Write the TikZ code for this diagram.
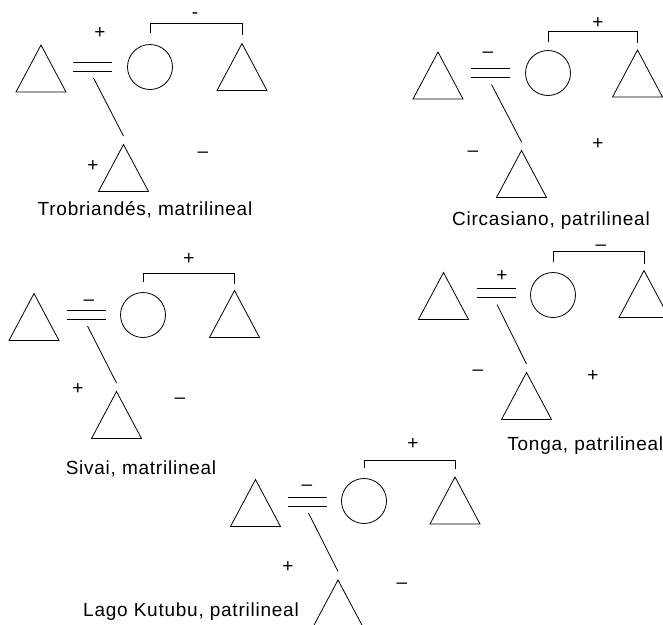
\documentclass[tikz,border=0pt]{standalone}
\usepackage{fontspec}
\setmainfont{Liberation Sans}[LetterSpace=4]
\begin{document}
\begin{tikzpicture}[x=1pt,y=-1pt,line width=0.8pt,
  tri/.style={minimum width=50pt,minimum height=47pt,inner sep=0pt,outer sep=0pt},
  fem/.style={circle,draw,minimum size=45pt,inner sep=0pt},
  marr/.style={minimum width=39pt,minimum height=9pt,inner sep=0pt,outer sep=0pt},
  sgn/.style={font=\fontsize{19pt}{22pt}\selectfont,inner sep=0pt,anchor=base},
  plus/.style={sgn,yshift=-6.7pt},
  minus/.style={sgn,yshift=-5.2pt},
  lbl/.style={font=\fontsize{19pt}{22pt}\selectfont,inner sep=0pt,anchor=base}]
\path[use as bounding box,clip] (0,0) rectangle (663,624);

% ---------- Trobriandes ----------
\node[tri]  (L1) at (41,68.5) {};
\node[marr] (E1) at (92.5,66.5) {};
\node[fem]  (O1) at (150,67) {};
\node[tri]  (R1) at (242,67) {};
\node[tri]  (C1) at (123.5,168) {};
\node[plus]  (s1a) at (100,32) {+};
\node[minus] (s1b) at (195,13) {-};
\node[plus]  (s1c) at (93,165) {+};
\node[minus] (s1d) at (203,152) {–};
\node[lbl] (t1) at (145,215) {Trobriandés, matrilineal};

% ---------- Circasiano ----------
\node[tri]  (L2) at (438,75.5) {};
\node[marr] (E2) at (490.5,73) {};
\node[fem]  (O2) at (548,73) {};
\node[tri]  (R2) at (637.5,73.5) {};
\node[tri]  (C2) at (521.5,174) {};
\node[minus] (s2a) at (488,52) {–};
\node[plus]  (s2b) at (598,22) {+};
\node[minus] (s2c) at (473,151) {–};
\node[plus]  (s2d) at (598,143) {+};
\node[lbl] (t2) at (551,225) {Circasiano, patrilineal};

% ---------- Sivai ----------
\node[tri]  (L3) at (34,317) {};
\node[marr] (E3) at (86.5,314.5) {};
\node[fem]  (O3) at (143,315) {};
\node[tri]  (R3) at (234.5,314) {};
\node[tri]  (C3) at (116.5,415) {};
\node[minus] (s3a) at (89,300) {–};
\node[plus]  (s3b) at (189,258) {+};
\node[plus]  (s3c) at (78,388) {+};
\node[minus] (s3d) at (180,398) {–};
\node[lbl] (t3) at (141,474) {Sivai, matrilineal};

% ---------- Tonga ----------
\node[tri]  (L4) at (443.5,296) {};
\node[marr] (E4) at (496,293) {};
\node[fem]  (O4) at (553,295) {};
\node[tri]  (R4) at (644,294) {};
\node[tri]  (C4) at (526.5,396) {};
\node[plus]  (s4a) at (502,275) {+};
\node[minus] (s4b) at (601,245) {–};
\node[minus] (s4c) at (478,370) {–};
\node[plus]  (s4d) at (593,375) {+};
\node[lbl,anchor=base west] (t4) at (507,450) {Tonga, patrilineal};

% ---------- Lago Kutubu ----------
\node[tri]  (L5) at (255.5,503) {};
\node[marr] (E5) at (307.5,501.5) {};
\node[fem]  (O5) at (364,501) {};
\node[tri]  (R5) at (455,500.5) {};
\node[tri]  (C5) at (338,603.5) {};
\node[minus] (s5a) at (307,485) {–};
\node[plus]  (s5b) at (413,443) {+};
\node[plus]  (s5c) at (288,566) {+};
\node[minus] (s5d) at (402,583) {–};
\node[lbl] (t5) at (191,616) {Lago Kutubu, patrilineal};

% triangles (males)
\foreach \t in {L1,R1,C1,L2,R2,C2,L3,R3,C3,L4,R4,C4,L5,R5,C5}
  \draw (\t.south west) -- (\t.north) -- (\t.south east) -- cycle;

% marriage signs
\foreach \e in {E1,E2,E3,E4,E5} {
  \draw (\e.north west) -- (\e.north east);
  \draw (\e.south west) -- (\e.south east);
}

% descent lines
\foreach \e/\c in {E1/C1,E2/C2,E3/C3,E4/C4,E5/C5}
  \draw ([xshift=1pt,yshift=-7pt]\e.south) -- ([yshift=8.5pt]\c.north);

% sibling brackets
\foreach \o/\r/\h/\ga/\gb in {O1/R1/10/11/9,O2/R2/11/8/7,O3/R3/9/10/7,O4/R4/11/10/7,O5/R5/8/10/8}
  \draw ([yshift=\ga pt]\o.north) -- ++(0pt,\h pt) -| ([yshift=\gb pt]\r.north);
\end{tikzpicture}
\end{document}
